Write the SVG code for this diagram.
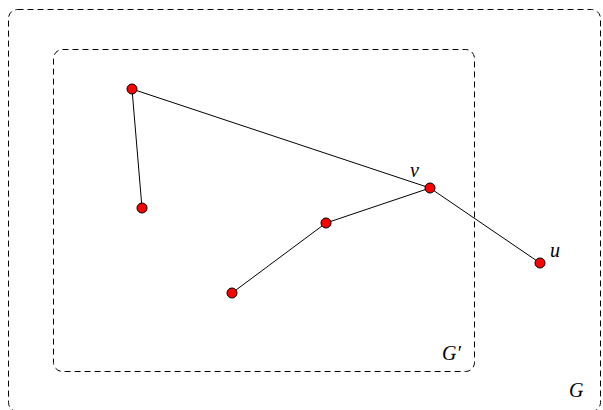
<svg xmlns="http://www.w3.org/2000/svg" width="603" height="410" viewBox="0 0 603 410">
<style>
.box{fill:none;stroke:#000;stroke-width:1;stroke-dasharray:6 4}
.edge{stroke:#000;stroke-width:1;fill:none}
.node{fill:#f00;stroke:#000;stroke-width:1}
.lbl{font-family:"Liberation Serif",serif;font-style:italic;font-size:20px;fill:#000}
</style>
<rect fill="#fff" width="603" height="410"/>
<g id="graph-G"><rect class="box" x="8.5" y="9.5" width="592" height="402" rx="9"/><text class="lbl" x="569" y="397">G</text></g>
<g id="subgraph-Gp"><rect class="box" x="53.5" y="49.5" width="421" height="322" rx="9"/><text class="lbl" x="442" y="360">G′</text></g>
<g id="connectors">
<line class="edge" x1="132" y1="89" x2="142" y2="208"/>
<line class="edge" x1="132" y1="89" x2="430" y2="188"/>
<line class="edge" x1="430" y1="188" x2="540" y2="263"/>
<line class="edge" x1="430" y1="188" x2="326" y2="223"/>
<line class="edge" x1="326" y1="223" x2="232" y2="293"/>
</g>
<g id="n1"><circle class="node" cx="132" cy="89" r="5"/></g>
<g id="n2"><circle class="node" cx="142" cy="208" r="5"/></g>
<g id="v"><circle class="node" cx="430" cy="188" r="5"/><text class="lbl" x="410" y="177">v</text></g>
<g id="u"><circle class="node" cx="540" cy="263" r="5"/><text class="lbl" x="550" y="257">u</text></g>
<g id="n5"><circle class="node" cx="326" cy="223" r="5"/></g>
<g id="n6"><circle class="node" cx="232" cy="293" r="5"/></g>
</svg>
